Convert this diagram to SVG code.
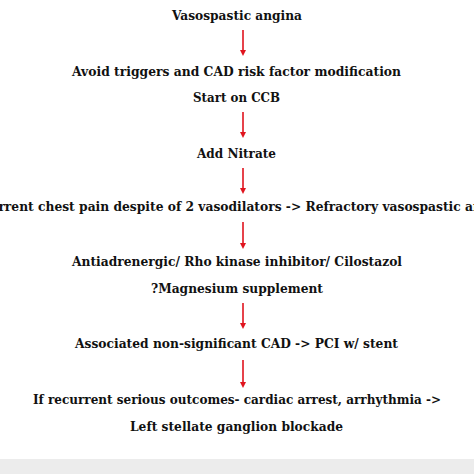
<svg xmlns="http://www.w3.org/2000/svg" width="474" height="474" viewBox="0 0 474 474">
<defs>
<style>
.t{font-family:"DejaVu Serif","Liberation Serif",serif;font-weight:bold;font-size:13.5px;fill:#111;text-anchor:middle}
.c{stroke:#e0141e;stroke-width:1.6;fill:none}
.h{fill:#e0141e}
</style>
</defs>
<rect x="0" y="0" width="474" height="474" fill="#ffffff"/>
<rect x="0" y="459" width="474" height="15" fill="#ececec"/>
<g id="connectors">
<line class="c" x1="243" y1="30" x2="243" y2="50"/>
<path class="h" d="M240,50 L246,50 L243,56 Z"/>
<line class="c" x1="243" y1="112" x2="243" y2="132"/>
<path class="h" d="M240,132 L246,132 L243,138 Z"/>
<line class="c" x1="243" y1="168" x2="243" y2="188"/>
<path class="h" d="M240,188 L246,188 L243,194 Z"/>
<line class="c" x1="243" y1="222" x2="243" y2="243"/>
<path class="h" d="M240,243 L246,243 L243,249 Z"/>
<line class="c" x1="243" y1="303" x2="243" y2="323"/>
<path class="h" d="M240,323 L246,323 L243,329 Z"/>
<line class="c" x1="243" y1="360" x2="243" y2="382"/>
<path class="h" d="M240,382 L246,382 L243,388 Z"/>
</g>
<g id="n1"><text class="t" x="237" y="20" textLength="130" lengthAdjust="spacingAndGlyphs">Vasospastic angina</text></g>
<g id="n2"><text class="t" x="236.5" y="76" textLength="329" lengthAdjust="spacingAndGlyphs">Avoid triggers and CAD risk factor modification</text></g>
<g id="n3"><text class="t" x="236.5" y="102" textLength="87" lengthAdjust="spacingAndGlyphs">Start on CCB</text></g>
<g id="n4"><text class="t" x="236.5" y="158" textLength="79" lengthAdjust="spacingAndGlyphs">Add Nitrate</text></g>
<g id="n5"><text class="t" x="238" y="211" textLength="548" lengthAdjust="spacingAndGlyphs">Recurrent chest pain despite of 2 vasodilators -&gt; Refractory vasospastic angina</text></g>
<g id="n6"><text class="t" x="237" y="266" textLength="330" lengthAdjust="spacingAndGlyphs">Antiadrenergic/ Rho kinase inhibitor/ Cilostazol</text></g>
<g id="n7"><text class="t" x="237" y="293" textLength="172" lengthAdjust="spacingAndGlyphs">?Magnesium supplement</text></g>
<g id="n8"><text class="t" x="236.5" y="348" textLength="323" lengthAdjust="spacingAndGlyphs">Associated non-significant CAD -&gt; PCI w/ stent</text></g>
<g id="n9"><text class="t" x="237" y="404" textLength="408" lengthAdjust="spacingAndGlyphs">If recurrent serious outcomes- cardiac arrest, arrhythmia -&gt;</text></g>
<g id="n10"><text class="t" x="236.5" y="431" textLength="213" lengthAdjust="spacingAndGlyphs">Left stellate ganglion blockade</text></g>
</svg>
